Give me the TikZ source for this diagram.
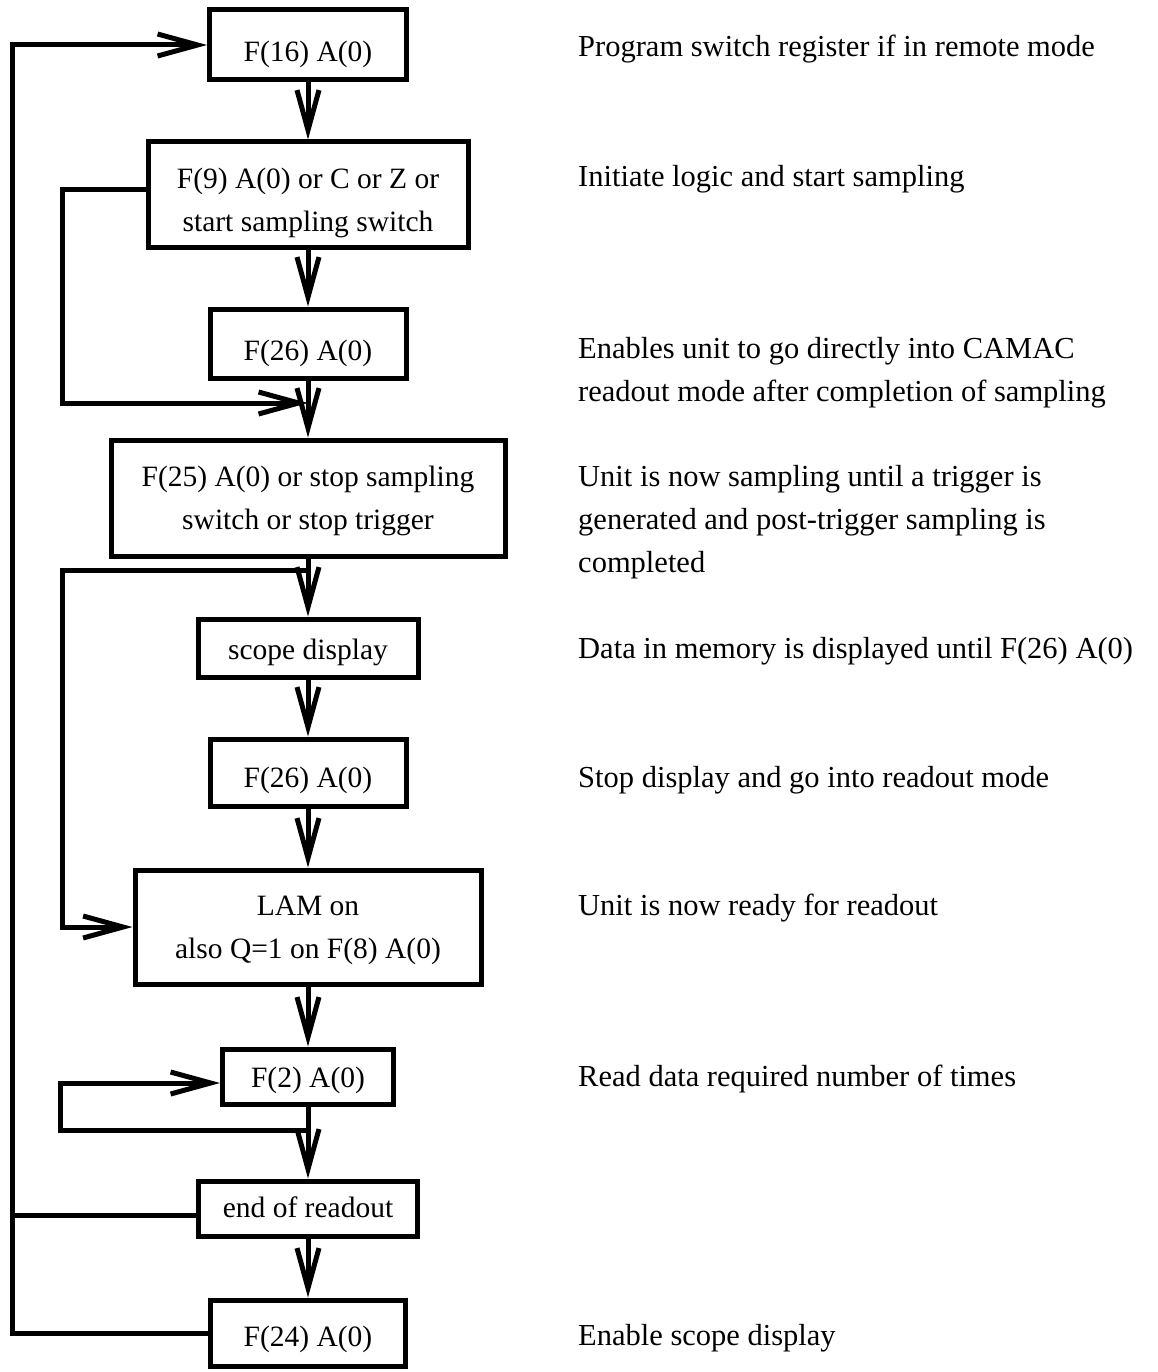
\documentclass[tikz,border=0pt]{standalone}
\usepackage{fontspec}
\setmainfont{Liberation Serif}
\usetikzlibrary{arrows.meta}
\begin{document}
\begin{tikzpicture}[x=1pt,y=-1pt,
  flowbox/.style={draw, line width=5pt, inner sep=0pt, text depth=0pt,
    font=\fontsize{29.5}{43}\selectfont},
  note/.style={anchor=base west, inner sep=0pt,
    font=\fontsize{30.5}{43}\selectfont},
  link/.style={line width=5pt},
  arr/.style={link, -{Straight Barb[length=40pt,width=22pt]}}]
\useasboundingbox (0,0) rectangle (1158,1372);
\fill[white] (0,0) rectangle (1158,1372);

% boxes
\node[flowbox, minimum width=197pt, minimum height=70pt, text height=34pt] (b1) at (308,45) {F(16) A(0)};
\node[flowbox, minimum width=320pt, minimum height=106pt, text height=74pt] (b2) at (308,195)
  {\begin{tabular}[b]{@{}c@{}}F(9) A(0) or C or Z or\\start sampling switch\end{tabular}};
\node[flowbox, minimum width=196pt, minimum height=69pt, text height=33pt] (b3) at (308,343.5) {F(26) A(0)};
\node[flowbox, minimum width=394pt, minimum height=116pt, text height=62pt] (b4) at (308,498)
  {\begin{tabular}[b]{@{}c@{}}F(25) A(0) or stop sampling\\switch or stop trigger\end{tabular}};
\node[flowbox, minimum width=220pt, minimum height=58pt, text height=22pt] (b5) at (308,648) {scope display};
\node[flowbox, minimum width=196pt, minimum height=67pt, text height=30pt] (b6) at (308,772.5) {F(26) A(0)};
\node[flowbox, minimum width=346pt, minimum height=114pt, text height=62pt] (b7) at (308,927)
  {\begin{tabular}[b]{@{}c@{}}LAM on\\also Q=1 on F(8) A(0)\end{tabular}};
\node[flowbox, minimum width=171pt, minimum height=55pt, text height=22pt] (b8) at (308,1076.5) {F(2) A(0)};
\node[flowbox, minimum width=219pt, minimum height=55pt, text height=18pt] (b9) at (308,1208.5) {end of readout};
\node[flowbox, minimum width=195pt, minimum height=66pt, text height=27pt] (b10) at (308,1333) {F(24) A(0)};

% straight flow
\draw[arr] (b1) -- (b2);
\draw[arr] (b2) -- (b3);
\draw[arr] (b3) -- (b4);
\draw[arr] (b4) -- (b5);
\draw[arr] (b5) -- (b6);
\draw[arr] (b6) -- (b7);
\draw[arr] (b7) -- (b8);
\draw[arr] (b8) -- (b9);
\draw[arr] (b9) -- (b10);

% loops
\coordinate (jA) at (308,403);
\coordinate (lA) at (62,403);
\draw[arr] ([yshift=5pt]b2.west) -| (lA) -- (jA);

\coordinate (jB) at (308,570);
\coordinate (lB) at (62,570);
\draw[arr] (jB) -- (lB) |- (b7.west);

\coordinate (jC) at (308,1130);
\coordinate (lC) at (60,1130);
\draw[arr] (jC) -- (lC) |- ([yshift=-6.5pt]b8.west);

\coordinate (lO) at (12,1333);
\draw[arr] (b10.west) -- (lO) |- (b1.west);
\draw[link] ([yshift=-6.5pt]b9.west) -- ([yshift=-6.5pt]b9.west -| lO);

% notes
\node[note] (n1) at (578,57) {Program switch register if in remote mode};
\node[note] (n2) at (578,187) {Initiate logic and start sampling};
\node[note] (n3) at (578,358) {\begin{tabular}[t]{@{}l@{}}Enables unit to go directly into CAMAC\\readout mode after completion of sampling\end{tabular}};
\node[note] (n4) at (578,486) {\begin{tabular}[t]{@{}l@{}}Unit is now sampling until a trigger is\\generated and post-trigger sampling is\\completed\end{tabular}};
\node[note] (n5) at (578,658) {Data in memory is displayed until F(26) A(0)};
\node[note] (n6) at (578,787) {Stop display and go into readout mode};
\node[note] (n7) at (578,915) {Unit is now ready for readout};
\node[note] (n8) at (578,1086) {Read data required number of times};
\node[note] (n9) at (578,1345) {Enable scope display};
\end{tikzpicture}
\end{document}
